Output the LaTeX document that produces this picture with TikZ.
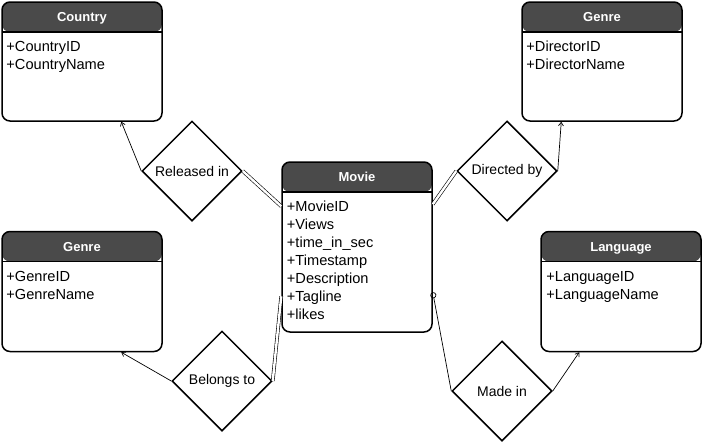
\documentclass[tikz,border=0pt]{standalone}
\usepackage{fontspec}
\setmainfont{Liberation Sans}
\usetikzlibrary{shapes.geometric,arrows.meta,calc}
\definecolor{hdr}{HTML}{4A4A4A}
\tikzset{
  entity/.style={draw, line width=1.5pt, rounded corners=8pt, rectangle,
    minimum width=#1, inner sep=0pt,
    preaction={fill=white, path picture={
      \fill[hdr] (path picture bounding box.north west) rectangle ([yshift=-30pt]path picture bounding box.north east);
      \draw[line width=1.4pt] ([yshift=-30pt]path picture bounding box.north west) -- ([yshift=-30pt]path picture bounding box.north east);
    }}},
  hdrtext/.style={text=white, font=\fontsize{13}{15}\selectfont\bfseries, inner sep=0pt, text height=9.3pt, text depth=0pt, anchor=center},
  attr/.style={font=\fontsize{14.6}{17}\selectfont, inner sep=0pt, text height=10.4pt, text depth=0pt, anchor=west},
  rel/.style={draw, diamond, aspect=1, line width=1.5pt, minimum width=100pt, minimum height=100pt, inner sep=0pt, fill=white, font=\fontsize{14}{17}\selectfont},
  conn/.style={line width=0.7pt},
  onearrow/.style={conn, -{Straight Barb[length=3.5pt,width=5pt,line width=0.7pt]}},
  dbl/.style={double=white, double distance=2.4pt, line width=0.6pt},
  circ/.style={conn, -{Circle[open,length=6pt,width=6pt,line width=0.7pt]}},
}
\begin{document}
\begin{tikzpicture}[x=1pt,y=-1pt]
\useasboundingbox (0,0) rectangle (702,442);
% entities
\node[entity=160pt, minimum height=119pt] (country) at (82,61.5) {};
\node[entity=160pt, minimum height=119pt] (director) at (602,61.5) {};
\node[entity=150pt, minimum height=170pt] (movie) at (357,247) {};
\node[entity=160pt, minimum height=120pt] (genre) at (82,291.5) {};
\node[entity=160pt, minimum height=120pt] (language) at (621,291.5) {};
% headers
\node[hdrtext] (countryh) at ([yshift=-15.5pt]country.north) {Country};
\node[hdrtext] (directorh) at ([yshift=-15.5pt]director.north) {Genre};
\node[hdrtext] (movieh) at ([yshift=-15.5pt]movie.north) {Movie};
\node[hdrtext] (genreh) at ([yshift=-16.5pt]genre.north) {Genre};
\node[hdrtext] (languageh) at ([yshift=-16.5pt]language.north) {Language};
% attributes
\node[attr] (c1) at ([xshift=5pt,yshift=-45pt]country.north west) {+CountryID};
\node[attr] (c2) at ([xshift=5pt,yshift=-63pt]country.north west) {+CountryName};
\node[attr] (d1) at ([xshift=5pt,yshift=-45pt]director.north west) {+DirectorID};
\node[attr] (d2) at ([xshift=5pt,yshift=-63pt]director.north west) {+DirectorName};
\node[attr] (m1) at ([xshift=5.5pt,yshift=-45pt]movie.north west) {+MovieID};
\node[attr] (m2) at ([xshift=5.5pt,yshift=-63pt]movie.north west) {+Views};
\node[attr] (m3) at ([xshift=5.5pt,yshift=-81pt]movie.north west) {+time\_in\_sec};
\node[attr] (m4) at ([xshift=5.5pt,yshift=-99pt]movie.north west) {+Timestamp};
\node[attr] (m5) at ([xshift=5.5pt,yshift=-117pt]movie.north west) {+Description};
\node[attr] (m6) at ([xshift=5.5pt,yshift=-135pt]movie.north west) {+Tagline};
\node[attr] (m7) at ([xshift=5.5pt,yshift=-153pt]movie.north west) {+likes};
\node[attr] (g1) at ([xshift=5pt,yshift=-46pt]genre.north west) {+GenreID};
\node[attr] (g2) at ([xshift=5pt,yshift=-64pt]genre.north west) {+GenreName};
\node[attr] (l1) at ([xshift=6pt,yshift=-46pt]language.north west) {+LanguageID};
\node[attr] (l2) at ([xshift=6pt,yshift=-64pt]language.north west) {+LanguageName};
% relationships
\node[rel] (released) at (192,171) {Released in};
\node[rel] (directed) at (507,171) {Directed by};
\node[rel] (belongs) at (222,381) {Belongs to};
\node[rel] (madein) at (502,391) {Made in};
% connectors
\draw[onearrow] (released.west) -- ([xshift=120pt]country.south west);
\draw[dbl] (released.east) -- ([yshift=-45pt]movie.north west);
\draw[dbl] (directed.west) -- ([yshift=-43pt]movie.north east);
\draw[onearrow] (directed.east) -- ([xshift=40pt]director.south west);
\draw[dbl] (belongs.east) -- ([yshift=-135pt]movie.north west);
\draw[onearrow] (belongs.west) -- ([xshift=120pt]genre.south west);
\draw[circ] (madein.west) -- ([yshift=-131pt]movie.north east);
\draw[onearrow] (madein.east) -- ([xshift=39pt]language.south west);
\end{tikzpicture}
\end{document}
